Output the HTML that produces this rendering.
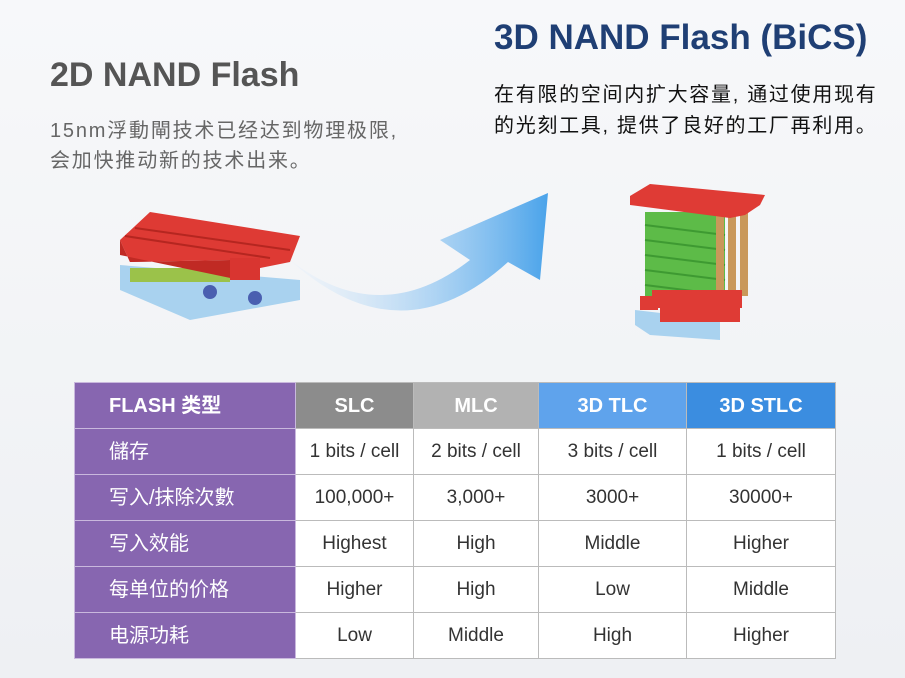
<!DOCTYPE html>
<html><head><meta charset="utf-8"><style>
body{margin:0;width:905px;height:678px;overflow:hidden;background:linear-gradient(#f7f8fa,#eef0f3);font-family:"Liberation Sans","Noto Sans CJK SC",sans-serif;position:relative}
.a{position:absolute;white-space:nowrap}
table{position:absolute;left:74px;top:382px;border-collapse:collapse;width:762px}
td{height:45px;line-height:45px;border:1px solid #bbb;text-align:center;font-size:19px;color:#333;background:#fff;padding:0;vertical-align:middle}
td span{display:inline-block;line-height:24px;vertical-align:middle}
td.l{background:#8766b0;color:#fff;text-align:left;padding-left:34px;font-size:20px;border-color:#c9b8dd}
tr.h td{color:#fff;font-weight:bold;font-size:20px}
</style></head><body>
<div class="a" style="left:50px;top:56px;font-size:34px;font-weight:bold;color:#555">2D NAND Flash</div>
<div class="a" style="left:50px;top:116px;font-size:20px;letter-spacing:1.8px;color:#666;line-height:30px">15nm浮動閘技术已经达到物理极限,<br>会加快推动新的技术出来。</div>
<div class="a" style="left:494px;top:18px;font-size:35px;font-weight:bold;color:#1f3f74">3D NAND Flash (BiCS)</div>
<div class="a" style="left:494px;top:80px;font-size:20px;letter-spacing:1.7px;color:#111;line-height:31px">在有限的空间内扩大容量, 通过使用现有<br>的光刻工具, 提供了良好的工厂再利用。</div>
<svg class="a" style="left:0;top:0" width="905" height="380">
<defs><linearGradient id="g" x1="0" y1="0" x2="1" y2="0"><stop offset="0" stop-color="#e8f1fb" stop-opacity="0.3"/><stop offset="1" stop-color="#4aa3ea"/></linearGradient></defs>
<path d="M290 260 Q380 330 470 260 L440 240 L548 193 L540 280 L508 262 Q400 360 290 260Z" fill="url(#g)"/>
<polygon points="120,265 300,280 300,300 190,320 120,290" fill="#a9d2ef"/>
<rect x="130" y="268" width="100" height="14" fill="#9bc24a"/>
<polygon points="120,240 150,212 300,236 290,262 240,272 230,260 130,262" fill="#de3a34"/>
<polygon points="120,240 130,262 230,260 240,272 240,280 120,255" fill="#c02a24"/>
<g stroke="#b52620" stroke-width="2"><line x1="135" y1="228" x2="290" y2="250"/><line x1="125" y1="236" x2="270" y2="258"/></g>
<rect x="230" y="258" width="30" height="22" fill="#d93530"/>
<circle cx="210" cy="292" r="7" fill="#4a5fb0"/><circle cx="255" cy="298" r="7" fill="#4a5fb0"/>
<polygon points="635,310 720,320 720,340 650,335 635,325" fill="#a9d2ef"/>
<rect x="645" y="212" width="80" height="90" fill="#5dbb48"/>
<g stroke="#3e9a32" stroke-width="2"><line x1="645" y1="225" x2="725" y2="235"/><line x1="645" y1="240" x2="725" y2="250"/><line x1="645" y1="255" x2="725" y2="265"/><line x1="645" y1="270" x2="725" y2="280"/><line x1="645" y1="285" x2="725" y2="295"/></g>
<rect x="728" y="200" width="8" height="110" fill="#c9985a"/><rect x="740" y="196" width="8" height="100" fill="#c9985a"/><rect x="716" y="205" width="8" height="115" fill="#c9985a"/>
<polygon points="630,196 650,184 765,195 760,205 745,215 730,218 630,205" fill="#df3b35"/>
<rect x="652" y="290" width="90" height="18" fill="#df3b35"/>
<rect x="660" y="304" width="80" height="18" fill="#df3b35"/>
<rect x="640" y="296" width="18" height="14" fill="#df3b35"/>
</svg>
<table>
<tr class="h"><td class="l" style="width:186px;font-weight:bold"><span>FLASH 类型</span></td><td style="width:117px;background:#8c8c8c"><span>SLC</span></td><td style="width:124px;background:#b2b2b2"><span>MLC</span></td><td style="width:147px;background:#5fa3ec"><span>3D TLC</span></td><td style="background:#3b8de0"><span>3D STLC</span></td></tr>
<tr><td class="l"><span>儲存</span></td><td><span>1 bits / cell</span></td><td><span>2 bits / cell</span></td><td><span>3 bits / cell</span></td><td><span>1 bits / cell</span></td></tr>
<tr><td class="l"><span>写入/抹除次數</span></td><td><span>100,000+</span></td><td><span>3,000+</span></td><td><span>3000+</span></td><td><span>30000+</span></td></tr>
<tr><td class="l"><span>写入效能</span></td><td><span>Highest</span></td><td><span>High</span></td><td><span>Middle</span></td><td><span>Higher</span></td></tr>
<tr><td class="l"><span>每单位的价格</span></td><td><span>Higher</span></td><td><span>High</span></td><td><span>Low</span></td><td><span>Middle</span></td></tr>
<tr><td class="l"><span>电源功耗</span></td><td><span>Low</span></td><td><span>Middle</span></td><td><span>High</span></td><td><span>Higher</span></td></tr>
</table>
</body></html>
